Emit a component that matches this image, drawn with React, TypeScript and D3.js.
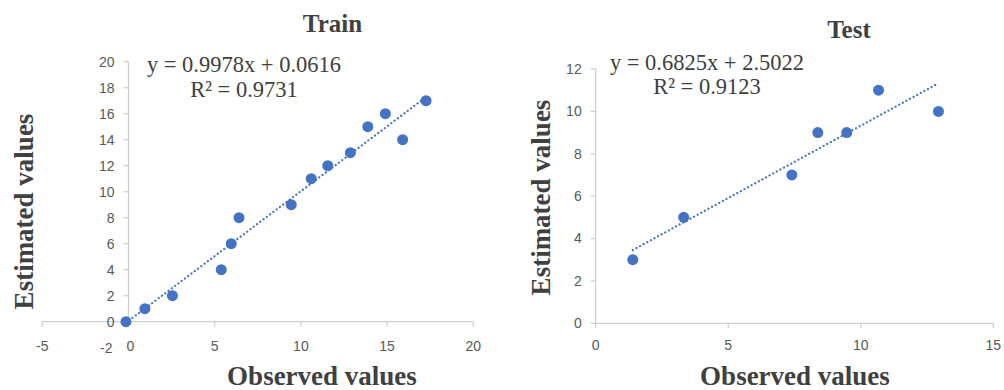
import React from 'react';
import * as d3 from 'd3';

// Train set: observed vs estimated
const trainObserved = [-0.15, 0.95, 2.55, 5.38, 5.96, 6.41, 9.44, 10.6, 11.56, 12.87, 13.88, 14.9, 15.9, 17.26];
const trainEstimated = [0, 1, 2, 4, 6, 8, 9, 11, 12, 13, 15, 16, 14, 17];
const trainFit = { slope: 0.9978, intercept: 0.0616, r2: '0.9731' };

// Test set
const testObserved = [1.4, 3.32, 7.4, 8.38, 9.47, 10.67, 12.93];
const testEstimated = [3, 5, 7, 9, 9, 11, 10];
const testFit = { slope: 0.6825, intercept: 2.5022, r2: '0.9123' };

const trainXTicks = [-5, 0, 5, 10, 15, 20];
const trainYTicks = [0, 2, 4, 6, 8, 10, 12, 14, 16, 18, 20];
const testXTicks = [0, 5, 10, 15];
const testYTicks = [0, 2, 4, 6, 8, 10, 12];

const BLUE = '#4472C4';
const AXIS = '#d0d0d0';
const TICK_TEXT = '#595959';
const TEXT = '#404040';
const SERIF = '"Liberation Serif", "Times New Roman", serif';
const SANS = '"Liberation Sans", Arial, sans-serif';

type PanelProps = {
  title: string;
  xs: number[];
  ys: number[];
  fit: { slope: number; intercept: number; r2: string };
  xDomain: [number, number];
  yDomain: [number, number];
  xRange: [number, number];
  yRange: [number, number];
  xTicks: number[];
  yTicks: number[];
  extraYLabel?: number;
  xLabelY: number;
  titlePos: [number, number];
  eqPos: [number, number];
  xTitlePos: [number, number];
  yTitlePos: [number, number];
};

const Panel = (p: PanelProps) => {
  const x = d3.scaleLinear().domain(p.xDomain).range(p.xRange);
  const y = d3.scaleLinear().domain(p.yDomain).range(p.yRange);
  const x0 = x(Math.max(0, p.xDomain[0]));
  const y0 = y(Math.max(0, p.yDomain[0]));

  const [minX, maxX] = d3.extent(p.xs) as [number, number];
  const fitLine = d3
    .line<number>()
    .x((d) => x(d))
    .y((d) => y(p.fit.slope * d + p.fit.intercept));

  const sign = p.fit.intercept >= 0 ? '+' : '−';

  return (
    <g>
      <text x={p.titlePos[0]} y={p.titlePos[1]} textAnchor="middle" fontFamily={SERIF} fontWeight="bold" fontSize={25} fill={TEXT}>
        {p.title}
      </text>

      {/* x axis */}
      <line x1={x(p.xDomain[0])} x2={x(p.xDomain[1])} y1={y0} y2={y0} stroke={AXIS} strokeWidth={1.3} />
      {p.xTicks.map((t) => (
        <g key={'xt' + t}>
          <line x1={x(t)} x2={x(t)} y1={y0} y2={y0 + 5} stroke={AXIS} strokeWidth={1.3} />
          <text x={x(t) + (t === 0 && p.xDomain[0] < 0 ? 2 : 0)} y={p.xLabelY} dy="0.35em" textAnchor="middle" fontFamily={SANS} fontSize={14} fill={TICK_TEXT}>
            {t}
          </text>
        </g>
      ))}

      {/* y axis */}
      <line x1={x0} x2={x0} y1={y(p.yDomain[1])} y2={y0} stroke={AXIS} strokeWidth={1.3} />
      {p.yTicks.map((t) => (
        <g key={'yt' + t}>
          <line x1={x0 - 5} x2={x0} y1={y(t)} y2={y(t)} stroke={AXIS} strokeWidth={1.3} />
          <text x={x0 - 14} y={y(t)} dy="0.35em" textAnchor="end" fontFamily={SANS} fontSize={14} fill={TICK_TEXT}>
            {t}
          </text>
        </g>
      ))}
      {p.extraYLabel !== undefined && (
        <text x={x0 - 16} y={y(p.extraYLabel)} dy="0.35em" textAnchor="end" fontFamily={SANS} fontSize={14} fill={TICK_TEXT}>
          {p.extraYLabel}
        </text>
      )}

      {/* trend line */}
      <path d={fitLine([minX, maxX]) || ''} fill="none" stroke={BLUE} strokeWidth={2.2} strokeDasharray="0.1 4" strokeLinecap="round" />

      {/* points */}
      {p.xs.map((v, i) => (
        <circle key={'pt' + i} cx={x(v)} cy={y(p.ys[i])} r={5.5} fill={BLUE} />
      ))}

      {/* equation */}
      <text x={p.eqPos[0]} y={p.eqPos[1]} textAnchor="middle" fontFamily={SERIF} fontSize={22.5} fill={TEXT}>
        {`y = ${p.fit.slope}x ${sign} ${Math.abs(p.fit.intercept)}`}
      </text>
      <text x={p.eqPos[0]} y={p.eqPos[1] + 24.5} textAnchor="middle" fontFamily={SERIF} fontSize={22.5} fill={TEXT}>
        {`R² = ${p.fit.r2}`}
      </text>

      {/* axis titles */}
      <text x={p.xTitlePos[0]} y={p.xTitlePos[1]} textAnchor="middle" fontFamily={SERIF} fontWeight="bold" fontSize={27} fill={TEXT}>
        Observed values
      </text>
      <text
        transform={`translate(${p.yTitlePos[0]},${p.yTitlePos[1]}) rotate(-90)`}
        textAnchor="middle"
        fontFamily={SERIF}
        fontWeight="bold"
        fontSize={27}
        fill={TEXT}
      >
        Estimated values
      </text>
    </g>
  );
};

const App = () => (
  <svg width={1004} height={390} style={{ position: 'absolute', left: 0, top: 0, background: '#fff' }}>
    <rect width={1004} height={390} fill="#fff" />
    <Panel
      title="Train"
      xs={trainObserved}
      ys={trainEstimated}
      fit={trainFit}
      xDomain={[-5, 20]}
      yDomain={[-2, 20]}
      xRange={[42.3, 473.3]}
      yRange={[347.7, 61.7]}
      xTicks={trainXTicks}
      yTicks={trainYTicks}
      extraYLabel={-2}
      xLabelY={346}
      titlePos={[332.5, 32]}
      eqPos={[244, 72]}
      xTitlePos={[322, 384.5]}
      yTitlePos={[33, 211.5]}
    />
    <Panel
      title="Test"
      xs={testObserved}
      ys={testEstimated}
      fit={testFit}
      xDomain={[0, 15]}
      yDomain={[0, 12]}
      xRange={[595.7, 993.3]}
      yRange={[323.3, 69]}
      xTicks={testXTicks}
      yTicks={testYTicks}
      xLabelY={345}
      titlePos={[849, 38]}
      eqPos={[707, 69.5]}
      xTitlePos={[795, 384.5]}
      yTitlePos={[550, 197.5]}
    />
  </svg>
);

export default App;
